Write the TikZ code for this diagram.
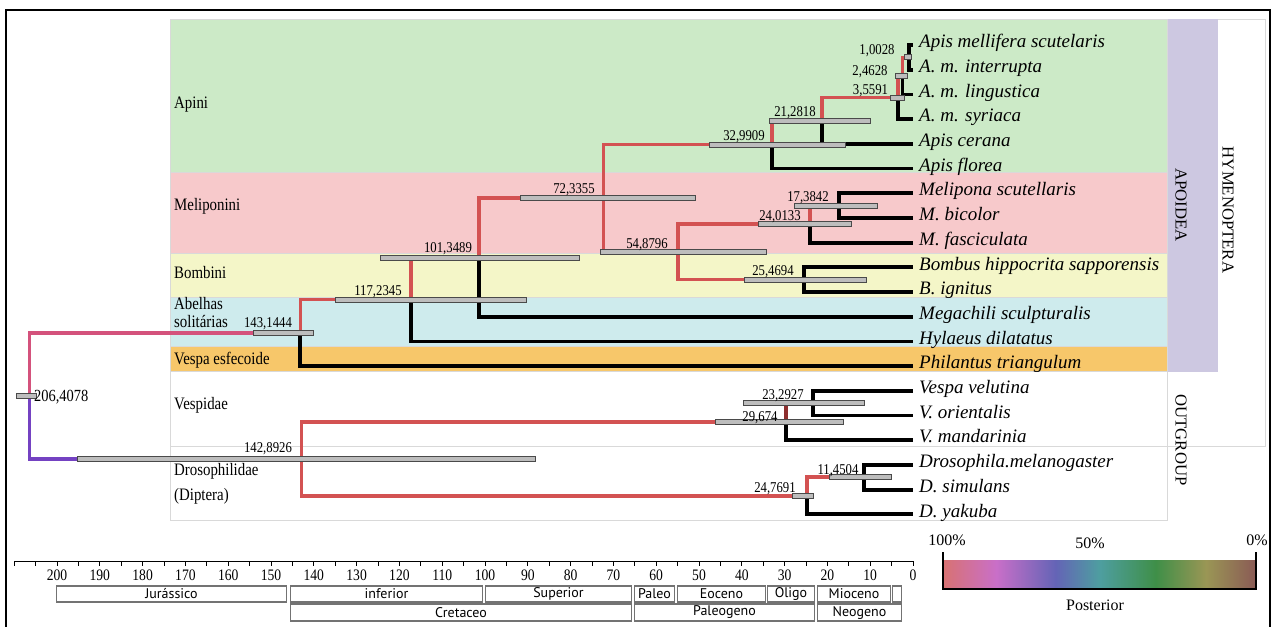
\documentclass[tikz,border=0pt]{standalone}
\usepackage{fontspec}
\setmainfont{Liberation Serif}
\newfontfamily\phylonarrow{Liberation Serif}[FakeStretch=0.85]
\newfontfamily\phylosans{PT Sans}
\usetikzlibrary{calc,positioning}
\definecolor{PhyloRed}{HTML}{D35252}
\definecolor{PhyloDarkRed}{HTML}{8E2E2E}
\definecolor{PhyloPink}{HTML}{D4527C}
\definecolor{PhyloViolet}{HTML}{7442C2}
\definecolor{PhyloBar}{HTML}{BDBDBD}
\definecolor{PhyloBarLine}{HTML}{4A4A4A}
\definecolor{BandApini}{HTML}{CCEAC7}
\definecolor{BandMeli}{HTML}{F7C9CB}
\definecolor{BandBombini}{HTML}{F4F6C8}
\definecolor{BandSolitary}{HTML}{CEEBED}
\definecolor{BandSphecoid}{HTML}{F7C76A}
\definecolor{BandApoidea}{HTML}{CDC8E1}
\definecolor{BandEdge}{HTML}{D9D9D9}
\definecolor{PostA}{HTML}{D87272}
\definecolor{PostB}{HTML}{C96FC8}
\definecolor{PostC}{HTML}{6464B6}
\definecolor{PostD}{HTML}{4E9EA0}
\definecolor{PostE}{HTML}{3F8F48}
\definecolor{PostF}{HTML}{9A9655}
\definecolor{PostG}{HTML}{8A5A55}
% age in Ma -> x position
\newcommand{\agex}[1]{913-4.28*(#1)}
% only 25bp..75bp ends up inside the bar
\pgfdeclarehorizontalshading{posterior}{100bp}{color(0bp)=(PostA); color(25bp)=(PostA); color(33.5bp)=(PostB); color(43bp)=(PostC); color(50bp)=(PostD); color(59bp)=(PostE); color(67bp)=(PostF); color(75bp)=(PostG); color(100bp)=(PostG)}
\tikzset{
  phylo band/.style={draw=BandEdge,line width=0.8pt},
  phylo branch/.style={draw=PhyloRed,line width=3.6pt},
  phylo tip branch/.style={draw=black,line width=3.8pt},
  phylo hpd/.style={
    draw=PhyloBarLine,
    fill=PhyloBar,
    line width=0.8pt,
    minimum height=5pt,
    inner sep=0pt
  },
  phylo taxon/.style={
    anchor=west,
    inner xsep=6pt,
    inner ysep=0pt,
    text height=11.5pt,
    text depth=6pt,
    font={\fontsize{19}{21}\selectfont\itshape}
  },
  phylo clade/.style={
    anchor=west,
    inner sep=3pt,
    align=left,
    font={\phylonarrow\fontsize{17.5}{18}\selectfont}
  },
  phylo age/.style={
    inner sep=0pt,
    text height=10pt,
    text depth=0pt,
    font={\phylonarrow\fontsize{15}{16}\selectfont}
  },
  phylo side/.style={rotate=-90,font={\fontsize{16.7}{18}\selectfont}},
  phylo tick/.style={font={\phylonarrow\fontsize{16}{17}\selectfont}},
  phylo epoch/.style={
    draw=black!55,
    line width=1.3pt,
    inner sep=0pt,
    minimum height=16pt,
    font={\phylosans\fontsize{14}{15}\selectfont}
  },
  phylo legend/.style={font={\fontsize{16}{18}\selectfont}}
}
\begin{document}
\begin{tikzpicture}[x=1pt,y=-1pt]
  \useasboundingbox (0,0) rectangle (1276,626);
  \clip (0,0) rectangle (1276,626);
  \draw[line width=2.4pt] (6,640) |- (1270,10) -- (1270,640);

  % clade bands
  \draw[phylo band,fill=white] (1167,19) rectangle (1265,446);
  \draw[phylo band,fill=BandApoidea,draw=BandApoidea] (1167,19) rectangle (1217,371);
  \draw[phylo band,fill=BandApini] (170,19) rectangle (1167,172);
  \draw[phylo band,fill=BandMeli] (170,172) rectangle (1167,253);
  \draw[phylo band,fill=BandBombini] (170,253) rectangle (1167,297);
  \draw[phylo band,fill=BandSolitary] (170,297) rectangle (1167,346);
  \draw[phylo band,fill=BandSphecoid] (170,346) rectangle (1167,371);
  \draw[phylo band,fill=white] (170,371) rectangle (1167,446);
  \draw[phylo band,fill=white] (170,446) rectangle (1167,520);

  \node[phylo clade] (apini) at (171,105) {Apini};
  \node[phylo clade] (meliponini) at (171,206) {Meliponini};
  \node[phylo clade] (bombini) at (171,273) {Bombini};
  \node[phylo clade] (solitary) at (171,313) {Abelhas\\solitárias};
  \node[phylo clade] (sphecoid) at (171,360) {Vespa esfecoide};
  \node[phylo clade] (vespidae) at (171,405) {Vespidae};
  \node[phylo clade,font={\phylonarrow\fontsize{17.5}{25}\selectfont}] (drosophilidae) at (171,484) {Drosophilidae\\(Diptera)};
  \node[phylo side] (apoidea) at (1181,205) {APOIDEA};
  \node[phylo side] (hymenoptera) at (1228,210) {HYMENOPTERA};
  \node[phylo side] (outgroup) at (1181,440) {OUTGROUP};

  % taxa
  \node[phylo taxon] (t01) at (913,45) {Apis mellifera scutelaris};
  \node[phylo taxon] (t02) at (913,69.7) {A. m. interrupta};
  \node[phylo taxon] (t03) at (913,94.4) {A. m. lingustica};
  \node[phylo taxon] (t04) at (913,119.1) {A. m. syriaca};
  \node[phylo taxon] (t05) at (913,143.8) {Apis cerana};
  \node[phylo taxon] (t06) at (913,168.5) {Apis florea};
  \node[phylo taxon] (t07) at (913,193.2) {Melipona scutellaris};
  \node[phylo taxon] (t08) at (913,217.9) {M. bicolor};
  \node[phylo taxon] (t09) at (913,242.6) {M. fasciculata};
  \node[phylo taxon] (t10) at (913,267.3) {Bombus hippocrita sapporensis};
  \node[phylo taxon] (t11) at (913,292) {B. ignitus};
  \node[phylo taxon] (t12) at (913,316.7) {Megachili sculpturalis};
  \node[phylo taxon] (t13) at (913,341.4) {Hylaeus dilatatus};
  \node[phylo taxon] (t14) at (913,366.1) {Philantus triangulum};
  \node[phylo taxon] (t15) at (913,390.8) {Vespa velutina};
  \node[phylo taxon] (t16) at (913,415.5) {V. orientalis};
  \node[phylo taxon] (t17) at (913,440.2) {V. mandarinia};
  \node[phylo taxon] (t18) at (913,464.9) {Drosophila.melanogaster};
  \node[phylo taxon] (t19) at (913,489.6) {D. simulans};
  \node[phylo taxon] (t20) at (913,514.3) {D. yakuba};

  % internal nodes
  \coordinate (nroot) at ({\agex{206.4078}},395.75);
  \coordinate (nhym) at ({\agex{143.1444}},332.75);
  \coordinate (napo) at ({\agex{117.2345}},299.4);
  \coordinate (nbee) at ({\agex{101.3489}},257.45);
  \coordinate (ncor) at ({\agex{72.3355}},198.2);
  \coordinate (napis) at ({\agex{32.9909}},144.6);
  \coordinate (nmicro) at ({\agex{21.2818}},120.6);
  \coordinate (nmel) at ({\agex{3.5591}},97.5);
  \coordinate (nmelb) at ({\agex{2.4628}},75.9);
  \coordinate (nmelc) at ({\agex{1.0028}},57.35);
  \coordinate (nmb) at ({\agex{54.8796}},251.9);
  \coordinate (nmelip) at ({\agex{24.0133}},224.1);
  \coordinate (nmelipb) at ({\agex{17.3842}},205.55);
  \coordinate (nbomb) at ({\agex{25.4694}},279.65);
  \coordinate (nout) at ({\agex{142.8926}},458.75);
  \coordinate (nvesp) at ({\agex{29.674}},421.7);
  \coordinate (nvespb) at ({\agex{23.2927}},403.15);
  \coordinate (ndros) at ({\agex{24.7691}},495.8);
  \coordinate (ndrosb) at ({\agex{11.4504}},477.25);

  % branches
  \draw[phylo branch,draw=PhyloPink] (nroot) |- (nhym);
  \draw[phylo branch,draw=PhyloViolet] (nroot) |- (nout);
  \draw[phylo branch] (nhym) |- (napo);
  \draw[phylo tip branch] (nhym) |- (t14.west);
  \draw[phylo branch] (napo) |- (nbee);
  \draw[phylo tip branch] (napo) |- (t13.west);
  \draw[phylo branch] (nbee) |- (ncor);
  \draw[phylo tip branch] (nbee) |- (t12.west);
  \draw[phylo branch] (ncor) |- (napis);
  \draw[phylo branch] (ncor) |- (nmb);
  \draw[phylo branch] (napis) |- (nmicro);
  \draw[phylo tip branch] (napis) |- (t06.west);
  \draw[phylo branch] (nmicro) |- (nmel);
  \draw[phylo tip branch] (nmicro) |- (t05.west);
  \draw[phylo branch] (nmel) |- (nmelb);
  \draw[phylo tip branch] (nmel) |- (t04.west);
  \draw[phylo branch] (nmelb) |- (nmelc);
  \draw[phylo tip branch] (nmelb) |- (t03.west);
  \draw[phylo tip branch] (nmelc) |- (t01.west);
  \draw[phylo tip branch] (nmelc) |- (t02.west);
  \draw[phylo branch] (nmb) |- (nmelip);
  \draw[phylo branch] (nmb) |- (nbomb);
  \draw[phylo branch] (nmelip) |- (nmelipb);
  \draw[phylo tip branch] (nmelip) |- (t09.west);
  \draw[phylo tip branch] (nmelipb) |- (t07.west);
  \draw[phylo tip branch] (nmelipb) |- (t08.west);
  \draw[phylo tip branch] (nbomb) |- (t10.west);
  \draw[phylo tip branch] (nbomb) |- (t11.west);
  \draw[phylo branch] (nout) |- (nvesp);
  \draw[phylo branch] (nout) |- (ndros);
  \draw[phylo branch,draw=PhyloDarkRed] (nvesp) |- (nvespb);
  \draw[phylo tip branch] (nvesp) |- (t17.west);
  \draw[phylo tip branch] (nvespb) |- (t15.west);
  \draw[phylo tip branch] (nvespb) |- (t16.west);
  \draw[phylo branch] (ndros) |- (ndrosb);
  \draw[phylo tip branch] (ndros) |- (t20.west);
  \draw[phylo tip branch] (ndrosb) |- (t18.west);
  \draw[phylo tip branch] (ndrosb) |- (t19.west);

  % 95% HPD bars
  \node[phylo hpd,minimum width=20pt] (broot) at (26,395.75) {};
  \node[phylo hpd,minimum width=60pt] (bhym) at (283,332.75) {};
  \node[phylo hpd,minimum width=191pt] (bapo) at (430.5,299.4) {};
  \node[phylo hpd,minimum width=199pt] (bbee) at (479.5,257.45) {};
  \node[phylo hpd,minimum width=175pt] (bcor) at (607.5,198.2) {};
  \node[phylo hpd,minimum width=136pt] (bapis) at (777,144.6) {};
  \node[phylo hpd,minimum width=101pt] (bmicro) at (819.5,120.6) {};
  \node[phylo hpd,minimum width=14pt] (bmel) at (897,97.5) {};
  \node[phylo hpd,minimum width=12pt] (bmelb) at (901,75.9) {};
  \node[phylo hpd,minimum width=7pt] (bmelc) at (907.5,57.35) {};
  \node[phylo hpd,minimum width=166pt] (bmb) at (683,251.9) {};
  \node[phylo hpd,minimum width=93pt] (bmelip) at (804.5,224.1) {};
  \node[phylo hpd,minimum width=83pt] (bmelipb) at (835.5,205.55) {};
  \node[phylo hpd,minimum width=122pt] (bbomb) at (805,279.65) {};
  \node[phylo hpd,minimum width=458pt] (bout) at (306,458.75) {};
  \node[phylo hpd,minimum width=128pt] (bvesp) at (779,421.7) {};
  \node[phylo hpd,minimum width=121pt] (bvespb) at (803.5,403.15) {};
  \node[phylo hpd,minimum width=21pt] (bdros) at (802.5,495.8) {};
  \node[phylo hpd,minimum width=62pt] (bdrosb) at (860,477.25) {};

  % node ages
  \node[phylo age,anchor=west,font={\phylonarrow\fontsize{17}{18}\selectfont}] (aroot) at (34,396) {206,4078};
  \node[phylo age] (ahym) at (268,322) {143,1444};
  \node[phylo age] (aapo) at (378,290) {117,2345};
  \node[phylo age] (abee) at (448,247) {101,3489};
  \node[phylo age] (acor) at (574,188) {72,3355};
  \node[phylo age] (aapis) at (744,135) {32,9909};
  \node[phylo age] (amicro) at (795,111) {21,2818};
  \node[phylo age] (amel) at (870.5,89) {3,5591};
  \node[phylo age] (amelb) at (870,70) {2,4628};
  \node[phylo age] (amelc) at (877,50) {1,0028};
  \node[phylo age] (amb) at (647,243) {54,8796};
  \node[phylo age] (amelip) at (780,215) {24,0133};
  \node[phylo age] (amelipb) at (808,196) {17,3842};
  \node[phylo age] (abomb) at (773,270) {25,4694};
  \node[phylo age] (aout) at (268,447) {142,8926};
  \node[phylo age] (avesp) at (760,416) {29,674};
  \node[phylo age] (avespb) at (783,394) {23,2927};
  \node[phylo age] (adros) at (775,487) {24,7691};
  \node[phylo age] (adrosb) at (838,469) {11,4504};

  % time axis
  \draw[line width=0.9pt] ({\agex{210}},561) -- ({\agex{0}},561);
  \foreach \t in {0,5,...,210}
    \draw[line width=0.9pt] ({\agex{\t}},561) -- ++(0,5);
  \foreach \t in {0,10,...,200}
    \node[phylo tick] (tick\t) at ({\agex{\t}},575) {\t};

  \node[phylo epoch,minimum width=230pt] (jurassic) at (171.5,594) {Jurássico};
  \node[phylo epoch,minimum width=192pt] (lowcret) at (386.5,594) {inferior};
  \node[phylo epoch,minimum width=146pt] (upcret) at (558.5,594) {Superior};
  \node[phylo epoch,minimum width=40pt] (paleo) at (654.5,594) {Paleo};
  \node[phylo epoch,minimum width=88pt] (eocene) at (721.5,594) {Eoceno};
  \node[phylo epoch,minimum width=47pt] (oligo) at (791,594) {Oligo};
  \node[phylo epoch,minimum width=73pt] (miocene) at (854,594) {Mioceno};
  \node[phylo epoch,minimum width=9pt] (pliocene) at (897,594) {};
  \node[phylo epoch,minimum width=341pt,minimum height=17pt] (cretaceous) at (461,612.5) {Cretaceo};
  \node[phylo epoch,minimum width=180pt,minimum height=17pt] (paleogene) at (724.5,612.5) {Paleogeno};
  \node[phylo epoch,minimum width=84pt,minimum height=17pt] (neogene) at (859.5,612.5) {Neogeno};

  % posterior legend
  \shade[shading=posterior] (943,560) rectangle (1256,589);
  \draw[line width=1.2pt] (943,552) -- (943,589) -- (1256,589) -- (1256,552);
  \node[phylo legend] (p100) at (947,540) {100\%};
  \node[phylo legend] (p50) at (1090,543) {50\%};
  \node[phylo legend] (p0) at (1257,540) {0\%};
  \node[phylo legend] (posterior) at (1095,605) {Posterior};
\end{tikzpicture}
\end{document}
